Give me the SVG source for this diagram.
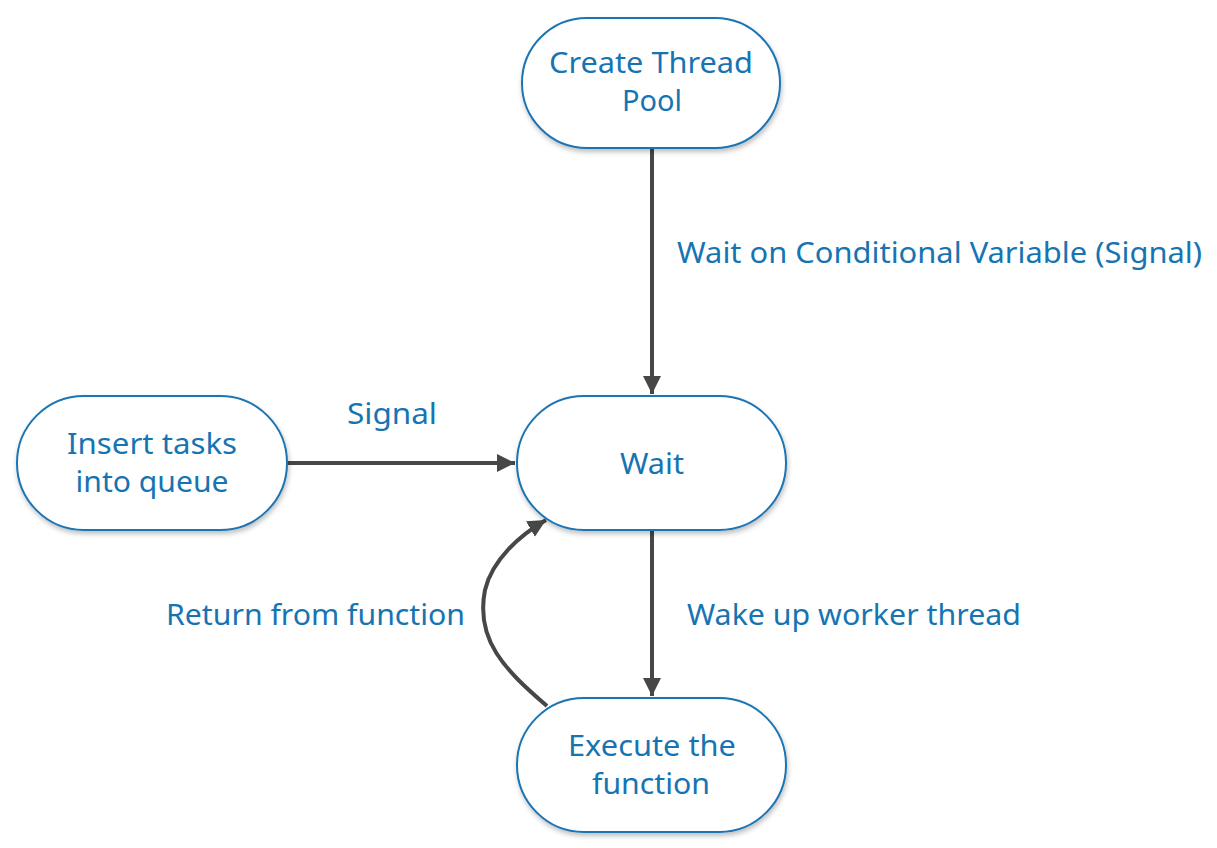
<svg xmlns="http://www.w3.org/2000/svg" width="1217" height="848" viewBox="0 0 1217 848">
<defs>
<filter id="sh" x="-10%" y="-10%" width="130%" height="140%">
<feDropShadow dx="1" dy="3" stdDeviation="2.5" flood-color="#000" flood-opacity="0.25"/>
</filter>
<marker id="ah" viewBox="0 0 10 10" refX="10" refY="5" markerWidth="4.5" markerHeight="5" markerUnits="strokeWidth" orient="auto">
<path d="M0,0 L10,5 L0,10 z" fill="#474747"/>
</marker>
</defs>
<style>
.node{fill:#fff;stroke:#1a74b3;stroke-width:2;filter:url(#sh)}
.t{font-family:"Noto Sans","Open Sans",sans-serif;font-size:29px;fill:#1674b2;text-anchor:middle}
.lbl{font-family:"Noto Sans","Open Sans",sans-serif;font-size:29px;fill:#1674b2}
.e{fill:none;stroke:#474747;stroke-width:4;marker-end:url(#ah)}
</style>
<g id="connectors">
<line class="e" x1="652" y1="148" x2="652" y2="394"/>
<line class="e" x1="287" y1="463" x2="515" y2="463"/>
<line class="e" x1="652" y1="530" x2="652" y2="696"/>
<path class="e" d="M547,706 C505,670 475,640 485,590 C492,560 520,535 546,520"/>
</g>
<g id="create">
<rect class="node" x="522" y="18" width="258" height="130" rx="65"/>
<text class="t" x="651" y="73" textLength="204" lengthAdjust="spacingAndGlyphs">Create Thread</text>
<text class="t" x="652" y="111" textLength="60" lengthAdjust="spacingAndGlyphs">Pool</text>
</g>
<g id="wait">
<rect class="node" x="517" y="396" width="269" height="134" rx="67"/>
<text class="t" x="652" y="474" textLength="64" lengthAdjust="spacingAndGlyphs">Wait</text>
</g>
<g id="insert">
<rect class="node" x="17" y="396" width="270" height="134" rx="67"/>
<text class="t" x="152" y="454" textLength="170" lengthAdjust="spacingAndGlyphs">Insert tasks</text>
<text class="t" x="152" y="492" textLength="153" lengthAdjust="spacingAndGlyphs">into queue</text>
</g>
<g id="execute">
<rect class="node" x="517" y="698" width="269" height="134" rx="67"/>
<text class="t" x="652" y="756" textLength="168" lengthAdjust="spacingAndGlyphs">Execute the</text>
<text class="t" x="651" y="794" textLength="118" lengthAdjust="spacingAndGlyphs">function</text>
</g>
<g id="labels">
<text class="lbl" x="677" y="263" textLength="525" lengthAdjust="spacingAndGlyphs">Wait on Conditional Variable (Signal)</text>
<text class="lbl" x="347" y="424" textLength="90" lengthAdjust="spacingAndGlyphs">Signal</text>
<text class="lbl" x="166" y="625" textLength="299" lengthAdjust="spacingAndGlyphs">Return from function</text>
<text class="lbl" x="687" y="625" textLength="334" lengthAdjust="spacingAndGlyphs">Wake up worker thread</text>
</g>
</svg>
